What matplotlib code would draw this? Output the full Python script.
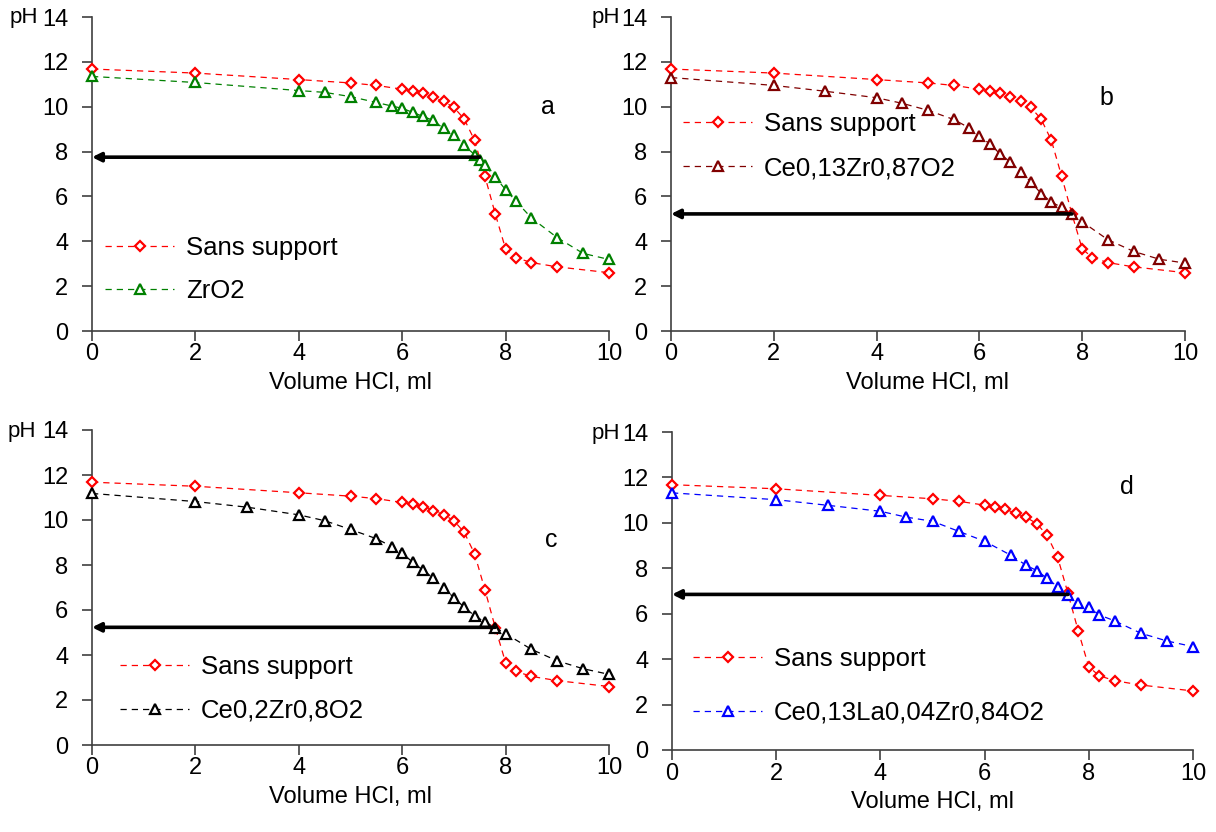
import matplotlib
matplotlib.use("Agg")
import matplotlib.pyplot as plt

plt.rcParams['font.family'] = ['Liberation Sans', 'DejaVu Sans']

# ---- data ----
# Reference curve (no support), same in all panels
ref_x = [0, 2, 4, 5, 5.5, 6, 6.2, 6.4, 6.6, 6.8, 7, 7.2, 7.4, 7.6, 7.8, 8, 8.2, 8.5, 9, 10]
ref_y = [11.68, 11.5, 11.21, 11.06, 10.95, 10.78, 10.69, 10.6, 10.42, 10.24, 9.97, 9.45,
         8.5, 6.9, 5.22, 3.66, 3.27, 3.05, 2.86, 2.6]
ref_label = "Sans support"

zro2_x = [0, 2, 4, 4.5, 5, 5.5, 5.8, 6, 6.2, 6.4, 6.6, 6.8, 7, 7.2, 7.4, 7.5, 7.6, 7.8,
          8, 8.2, 8.5, 9, 9.5, 10]
zro2_y = [11.35, 11.08, 10.72, 10.64, 10.45, 10.19, 10.03, 9.93, 9.75, 9.57, 9.39, 9.03,
          8.73, 8.28, 7.86, 7.62, 7.38, 6.86, 6.3, 5.79, 5.04, 4.16, 3.46, 3.19]

ce13_x = [0, 2, 3, 4, 4.5, 5, 5.5, 5.8, 6, 6.2, 6.4, 6.6, 6.8, 7, 7.2, 7.4, 7.6, 7.8,
          8, 8.5, 9, 9.5, 10]
ce13_y = [11.3, 10.95, 10.69, 10.4, 10.15, 9.84, 9.43, 9.06, 8.69, 8.35, 7.9, 7.54,
          7.11, 6.65, 6.13, 5.75, 5.51, 5.23, 4.87, 4.07, 3.55, 3.2, 3.03]

ce20_x = [0, 2, 3, 4, 4.5, 5, 5.5, 5.8, 6, 6.2, 6.4, 6.6, 6.8, 7, 7.2, 7.4, 7.6, 7.8,
          8, 8.5, 9, 9.5, 10]
ce20_y = [11.18, 10.82, 10.57, 10.23, 9.97, 9.58, 9.17, 8.82, 8.55, 8.12, 7.78, 7.42,
          6.98, 6.55, 6.12, 5.75, 5.46, 5.22, 4.95, 4.25, 3.74, 3.39, 3.14]

cela_x = [0, 2, 3, 4, 4.5, 5, 5.5, 6, 6.5, 6.8, 7, 7.2, 7.4, 7.6, 7.8, 8, 8.2, 8.5,
          9, 9.5, 10]
cela_y = [11.32, 11.02, 10.77, 10.51, 10.25, 10.07, 9.63, 9.19, 8.58, 8.13, 7.9, 7.56,
          7.19, 6.82, 6.49, 6.31, 5.95, 5.68, 5.14, 4.8, 4.55]

panel_labels = ["a", "b", "c", "d"]
series_labels = ["ZrO2", "Ce0,13Zr0,87O2", "Ce0,2Zr0,8O2", "Ce0,13La0,04Zr0,84O2"]
arrow_y = [7.75, 5.22, 5.23, 6.85]
arrow_x0 = [7.5, 7.8, 7.8, 7.6]
x_ticks = [0, 2, 4, 6, 8, 10]
y_ticks = [0, 2, 4, 6, 8, 10, 12, 14]
x_label = "Volume HCl, ml"
y_label = "pH"

# ---- layout ----
W, H = 1216, 832
fig = plt.figure(figsize=(W / 100, H / 100), dpi=100)

def box(l, r, b, t):
    return [l / W, 1 - b / H, (r - l) / W, (b - t) / H]

rects = [box(92, 609, 331, 17), box(671, 1185, 331, 17),
         box(92, 609, 745, 430), box(672, 1193, 750, 432)]
colors = ["#008000", "#800000", "#000000", "#0000ff"]
sx = [zro2_x, ce13_x, ce20_x, cela_x]
sy = [zro2_y, ce13_y, ce20_y, cela_y]
letter_pos = [(8.82, 10.0), (8.48, 10.4), (8.88, 9.1), (8.73, 11.6)]
leg_anchor = [(0.025, 0.197), (0.023, 0.588), (0.054, 0.179), (0.040, 0.201)]
leg_spacing = [0.75, 0.78, 0.78, 1.15]
ph_pos = [(24, 17), (606, 17), (22, 431), (606, 433)]

FS_TICK = 17
FS_LEG = 18.5

for i in range(4):
    ax = fig.add_axes(rects[i])
    ax.plot(ref_x, ref_y, linestyle=(0, (5, 4)), color="#ff0000", lw=0.9,
            marker="D", markersize=5.5, markerfacecolor="white",
            markeredgecolor="#ff0000", markeredgewidth=1.6, clip_on=False,
            label=ref_label, zorder=3)
    ax.plot(sx[i], sy[i], linestyle=(0, (5, 4)), color=colors[i], lw=0.9,
            marker="^", markersize=7, markerfacecolor="white",
            markeredgecolor=colors[i], markeredgewidth=1.6, clip_on=False,
            label=series_labels[i], zorder=3)
    ax.annotate("", xy=(0, arrow_y[i]), xytext=(arrow_x0[i], arrow_y[i]),
                arrowprops=dict(arrowstyle="-|>", color="black", lw=2.6,
                                mutation_scale=13, shrinkA=0, shrinkB=0),
                zorder=4, annotation_clip=False)
    ax.set_xlim(0, 10)
    ax.set_ylim(0, 14)
    ax.set_xticks(x_ticks)
    ax.set_yticks(y_ticks)
    for s in ["top", "right"]:
        ax.spines[s].set_visible(False)
    for s in ["left", "bottom"]:
        ax.spines[s].set_color("#404040")
        ax.spines[s].set_linewidth(1.2)
    ax.tick_params(axis="both", direction="out", length=7, width=1.2,
                   color="#404040", labelsize=FS_TICK)
    ax.tick_params(axis="y", pad=10)
    ax.tick_params(axis="x", pad=2)
    ax.set_xlabel(x_label, fontsize=FS_TICK, labelpad=5)
    ax.text(letter_pos[i][0], letter_pos[i][1], panel_labels[i], fontsize=18,
            ha="center", va="center")
    fig.text(ph_pos[i][0] / W, 1 - ph_pos[i][1] / H, y_label, fontsize=FS_TICK - 1,
             ha="center", va="center")
    ax.legend(loc="center left", bbox_to_anchor=leg_anchor[i], frameon=False,
              fontsize=FS_LEG, handlelength=2.7, handletextpad=0.45,
              labelspacing=leg_spacing[i], borderaxespad=0, borderpad=0)

fig.savefig("out.png", dpi=100)
